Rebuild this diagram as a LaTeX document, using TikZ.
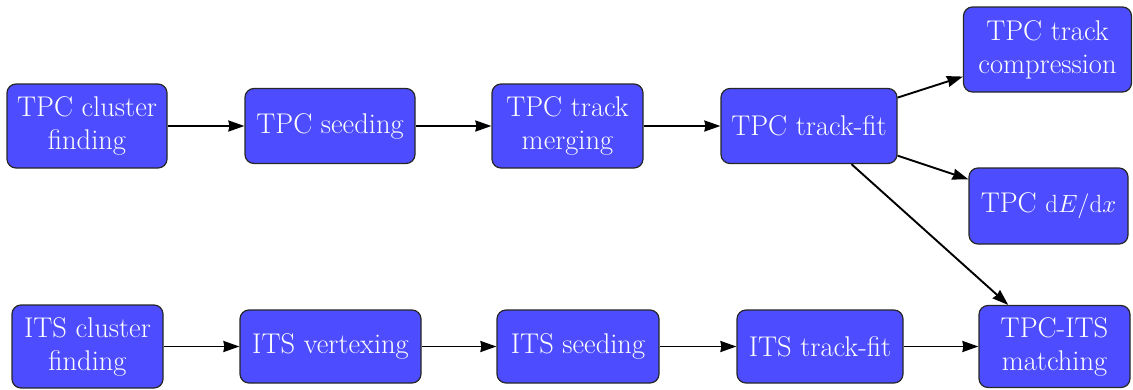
\documentclass[tikz,border=0pt]{standalone}
\usetikzlibrary{arrows.meta}
\definecolor{boxblue}{RGB}{77,77,255}
\begin{document}
\begin{tikzpicture}[x=1pt,y=-1pt,
  box/.style={draw=black!85,line width=1.2pt,fill=boxblue,rounded corners=9pt,
    text=white,align=center,inner sep=2pt,font=\fontsize{28.5}{33}\selectfont},
  conn/.style={line width=1.9pt,-{Stealth[length=16pt,width=11pt,inset=1pt]}}]
\useasboundingbox (0,0) rectangle (1133,389);
% top row
\node[box,minimum width=160pt,minimum height=84pt] (tcf) at (87,126) {TPC cluster\\finding};
\node[box,minimum width=170pt,minimum height=75pt] (tsd) at (330,126) {TPC seeding};
\node[box,minimum width=151pt,minimum height=84pt] (tmg) at (567.5,126) {TPC track\\merging};
\node[box,minimum width=176pt,minimum height=75pt] (tfit) at (809,126) {TPC track-fit};
\node[box,minimum width=168pt,minimum height=85pt] (tcmp) at (1047.5,49.5) {TPC track\\compression};
\node[box,minimum width=159pt,minimum height=76pt] (tdedx) at (1048.5,206) {TPC $\mathrm{d}E/\mathrm{d}x$};
% bottom row
\node[box,minimum width=151pt,minimum height=83pt] (icf) at (87.5,346.5) {ITS cluster\\finding};
\node[box,minimum width=181pt,minimum height=73pt] (ivx) at (330.5,346.5) {ITS vertexing};
\node[box,minimum width=162pt,minimum height=73pt] (isd) at (578,346.5) {ITS seeding};
\node[box,minimum width=166pt,minimum height=73pt] (ifit) at (820,346.5) {ITS track-fit};
\node[box,minimum width=151pt,minimum height=82pt] (match) at (1054.5,346.5) {TPC-ITS\\matching};
% connectors
\draw[conn] (tcf) -- (tsd);
\draw[conn] (tsd) -- (tmg);
\draw[conn] (tmg) -- (tfit);
\draw[conn] (tfit) -- (tcmp);
\draw[conn] (tfit) -- (tdedx);
\draw[conn] (tfit) -- (match);
\draw[conn] (icf) -- (ivx);
\draw[conn] (ivx) -- (isd);
\draw[conn] (isd) -- (ifit);
\draw[conn] (ifit) -- (match);
\end{tikzpicture}
\end{document}
